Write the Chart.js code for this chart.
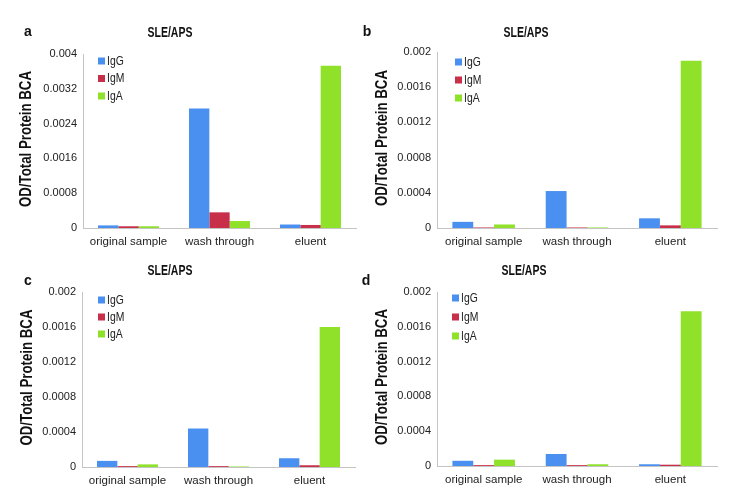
<!DOCTYPE html>
<html>
<head>
<meta charset="utf-8">
<script src="https://cdn.jsdelivr.net/npm/chart.js@4.4.1/dist/chart.umd.min.js"></script>
<style>
  body { margin: 0; background: #fff; }
  #wrap { position: relative; width: 738px; height: 500px; }
  canvas { position: absolute; }
  .letter { position: absolute; font: bold 14px 'Liberation Sans', Arial, sans-serif; color: #111; transform: translate(-50%, -50%); }
</style>
</head>
<body>
<div id="wrap">
  <canvas id="pa" width="369" height="250" style="left:0;top:0"></canvas>
  <canvas id="pb" width="369" height="250" style="left:369px;top:0"></canvas>
  <canvas id="pc" width="369" height="250" style="left:0;top:250px"></canvas>
  <canvas id="pd" width="369" height="250" style="left:369px;top:250px"></canvas>
  <div class="letter" style="left:28px;top:31px">a</div>
  <div class="letter" style="left:367px;top:31px">b</div>
  <div class="letter" style="left:28px;top:280px">c</div>
  <div class="letter" style="left:366px;top:280px">d</div>
</div>
<script>
const categories = ['original sample', 'wash through', 'eluent'];
const seriesNames = ['IgG', 'IgM', 'IgA'];
const colors = ['#4a90f0', '#c8304a', '#8fe12a'];
const chartTitle = 'SLE/APS';
const yTitle = 'OD/Total Protein BCA';

// panel a
const igG_a = [0.00006, 0.00275, 0.00008];
const igM_a = [0.00004, 0.00036, 0.00007];
const igA_a = [0.00004, 0.00016, 0.00373];
const ticks_a = [0, 0.0008, 0.0016, 0.0024, 0.0032, 0.004];

// panel b
const igG_b = [0.00007, 0.00042, 0.00011];
const igM_b = [0.000006, 0.000006, 0.00003];
const igA_b = [0.00004, 0.000006, 0.0019];
const ticks_b = [0, 0.0004, 0.0008, 0.0012, 0.0016, 0.002];

// panel c
const igG_c = [0.00007, 0.00044, 0.0001];
const igM_c = [0.00001, 0.00001, 0.00002];
const igA_c = [0.00003, 0.000006, 0.0016];
const ticks_c = [0, 0.0004, 0.0008, 0.0012, 0.0016, 0.002];

// panel d
const igG_d = [0.00006, 0.000138, 0.00002];
const igM_d = [0.00001, 0.00001, 0.000015];
const igA_d = [0.000073, 0.00002, 0.00178];
const ticks_d = [0, 0.0004, 0.0008, 0.0012, 0.0016, 0.002];

const fam = "'Liberation Sans', Arial, sans-serif";

// squeezed text, the original uses a condensed face
function narrowText(ctx, txt, x, y, sx, rot) {
  ctx.save();
  ctx.translate(x, y);
  if (rot) ctx.rotate(rot);
  ctx.scale(sx, 1);
  ctx.fillText(txt, 0, 0);
  ctx.restore();
}

// title, y title and legend drawn inside each panel
const panelDeco = {
  id: 'panelDeco',
  afterDraw(chart, args, opts) {
    const ctx = chart.ctx;
    const area = chart.chartArea;
    ctx.save();
    ctx.fillStyle = '#111';
    ctx.textAlign = 'center';
    ctx.textBaseline = 'middle';
    ctx.font = 'bold 15px ' + fam;
    narrowText(ctx, chartTitle, opts.titleX, opts.titleY, 0.7);
    ctx.font = 'bold 17px ' + fam;
    narrowText(ctx, yTitle, opts.yTitleX, (area.top + area.bottom) / 2 - 2, 0.78, -Math.PI / 2);

    ctx.font = '13px ' + fam;
    ctx.textAlign = 'left';
    chart.data.datasets.forEach((ds, i) => {
      const y = area.top + opts.legY + i * opts.legGap;
      const x = area.left + opts.legX;
      ctx.fillStyle = ds.backgroundColor;
      ctx.fillRect(x, y - 3.5, 7, 7);
      ctx.fillStyle = '#222';
      narrowText(ctx, ds.label, x + 9, y, 0.8);
    });
    ctx.restore();
  }
};

function makePanel(id, g, igG, igM, igA, yticks) {
  const vals = [igG, igM, igA];
  const top = yticks[yticks.length - 1];
  new Chart(document.getElementById(id), {
    type: 'bar',
    data: {
      labels: categories,
      datasets: seriesNames.map((name, i) => ({
        label: name,
        data: vals[i],
        backgroundColor: colors[i],
        categoryPercentage: 0.67,
        barPercentage: 1.0
      }))
    },
    options: {
      responsive: false,
      animation: false,
      layout: { padding: { top: g.top, right: g.right, left: 0, bottom: 0 } },
      plugins: {
        legend: { display: false },
        tooltip: { enabled: false },
        panelDeco: g.deco
      },
      scales: {
        x: {
          grid: { display: false, drawTicks: false },
          border: { display: true, color: '#c4c4c4' },
          ticks: { color: '#222', padding: 7, maxRotation: 0, autoSkip: false, font: { family: fam, size: 11.5 } },
          afterFit(s) { s.height = g.xh; }
        },
        y: {
          min: 0,
          max: top,
          afterBuildTicks(s) { s.ticks = yticks.map(v => ({ value: v })); },
          grid: { display: false, drawTicks: false },
          border: { display: true, color: '#c4c4c4' },
          ticks: {
            color: '#222',
            padding: 6,
            font: { family: fam, size: 11 },
            callback: v => String(+v.toFixed(4))
          },
          afterFit(s) { s.width = g.left; }
        }
      }
    },
    plugins: [panelDeco]
  });
}

makePanel('pa', { top: 54, right: 13, left: 83, xh: 22,
  deco: { titleX: 170, titleY: 33, yTitleX: 26, legX: 15, legY: 7, legGap: 17.5 } }, igG_a, igM_a, igA_a, ticks_a);
makePanel('pb', { top: 52, right: 21, left: 68, xh: 22,
  deco: { titleX: 157, titleY: 33, yTitleX: 13, legX: 18, legY: 10, legGap: 18 } }, igG_b, igM_b, igA_b, ticks_b);
makePanel('pc', { top: 42, right: 14, left: 82, xh: 33,
  deco: { titleX: 170, titleY: 21, yTitleX: 27, legX: 16, legY: 8, legGap: 17 } }, igG_c, igM_c, igA_c, ticks_c);
makePanel('pd', { top: 42, right: 21, left: 68, xh: 34,
  deco: { titleX: 155, titleY: 21, yTitleX: 13, legX: 15, legY: 6, legGap: 19 } }, igG_d, igM_d, igA_d, ticks_d);
</script>
</body>
</html>
